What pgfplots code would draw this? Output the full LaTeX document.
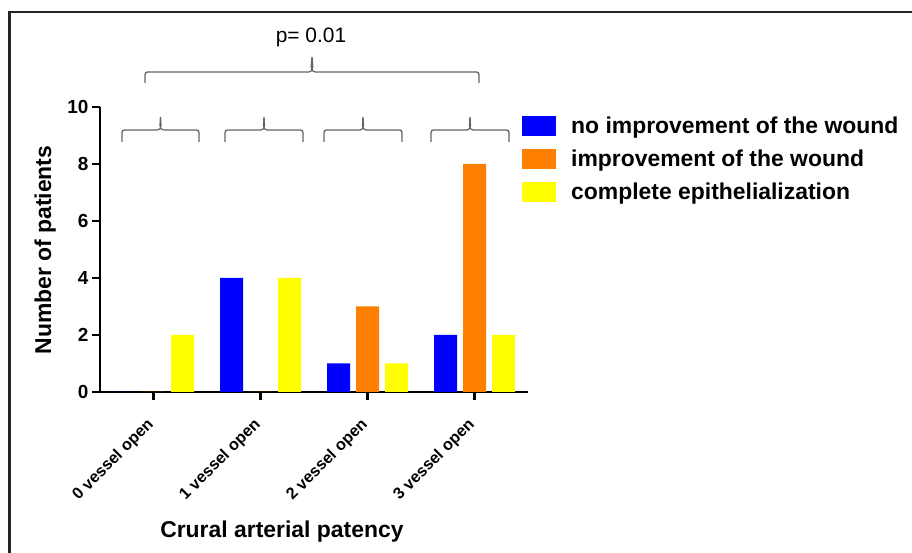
\documentclass[border=0pt]{standalone}
\usepackage{fontspec}
\setmainfont{Liberation Sans}
\usepackage{pgfplots}
\pgfplotsset{compat=1.18}

\definecolor{barblue}{RGB}{0,0,255}
\definecolor{barorange}{RGB}{255,128,0}
\definecolor{baryellow}{RGB}{255,255,0}
\definecolor{bracegray}{RGB}{100,100,100}

% flat brace: left x, right x, leg bottom y, line y, tip y
\newcommand\flatbrace[5]{%
  \pgfmathsetmacro\xm{(#1+#2)/2}%
  \draw[bracegray, line width=1.3bp, rounded corners=2.5bp]
    (#1,#3) -- (#1,#4) -- (\xm-3,#4);
  \draw[bracegray, line width=1.3bp]
    (\xm-3,#4) to[out=0,in=-90] (\xm,#5) to[out=-90,in=180] (\xm+3,#4);
  \draw[bracegray, line width=1.3bp, rounded corners=2.5bp]
    (\xm+3,#4) -- (#2,#4) -- (#2,#3);
}

\begin{document}
\begin{tikzpicture}[x=1bp,y=1bp]
\useasboundingbox (0,0) rectangle (912,553);
% frame of the figure
\draw[line width=2.5bp, black!85] (9.5,0) -- (9.5,541) -- (912,541);

\begin{axis}[
  at={(100bp,161bp)}, anchor=south west,
  width=428bp, height=285bp, scale only axis,
  xmin=-0.5, xmax=3.5, ymin=0, ymax=10,
  axis x line*=bottom, axis y line*=left,
  axis line style={line width=2.5bp, -},
  every tick/.style={line width=2.5bp, black},
  major tick length=8bp,
  tick align=outside,
  xtick={0,1,2,3},
  xticklabels={0 vessel open,1 vessel open,2 vessel open,3 vessel open},
  ytick={0,2,4,6,8,10},
  /pgf/number format/assume math mode=true,
  yticklabel style={font=\bfseries\fontsize{19}{19}\selectfont},
  xticklabel style={font=\bfseries\fontsize{16.3}{16.3}\selectfont,
    rotate=45, anchor=north east, xshift=-14bp, yshift=-3bp},
  ylabel={\bfseries Number of patients},
  xlabel={\bfseries Crural arterial patency},
  label style={font=\fontsize{23}{23}\selectfont},
  ylabel style={at={(axis description cs:-0.128,0.498)}, anchor=center},
  xlabel style={at={(axis description cs:0.425,-0.509)}, anchor=base},
  clip=false,
  legend cell align=left,
  legend image code/.code={\fill[#1] (0bp,-10bp) rectangle (34bp,10bp); \path (47bp,0bp);},
  legend style={at={(axis description cs:0.986,0.972)}, anchor=north west,
    draw=none, fill=none, inner sep=0pt, row sep=11bp,
    font=\bfseries\fontsize{23}{23}\selectfont},
]
\addplot[ybar, bar width=23bp, bar shift=-29bp, draw=none, fill=barblue]
  coordinates {(0,0) (1,4) (2,1) (3,2)};
\addplot[ybar, bar width=23bp, bar shift=0bp, draw=none, fill=barorange]
  coordinates {(0,0) (1,0) (2,3) (3,8)};
\addplot[ybar, bar width=23bp, bar shift=29bp, draw=none, fill=baryellow]
  coordinates {(0,2) (1,4) (2,1) (3,2)};
\legend{no improvement of the wound, improvement of the wound, complete epithelialization}
\end{axis}

% comparison braces
\flatbrace{145}{479}{470}{481}{496}
\flatbrace{122}{199}{411}{423}{436}
\flatbrace{225}{303}{411}{423}{436}
\flatbrace{324}{402}{411}{423}{436}
\flatbrace{431}{509}{411}{423}{436}
\node[anchor=base, font=\fontsize{21}{21}\selectfont] at (311,510) {p= 0.01};
\end{tikzpicture}
\end{document}
